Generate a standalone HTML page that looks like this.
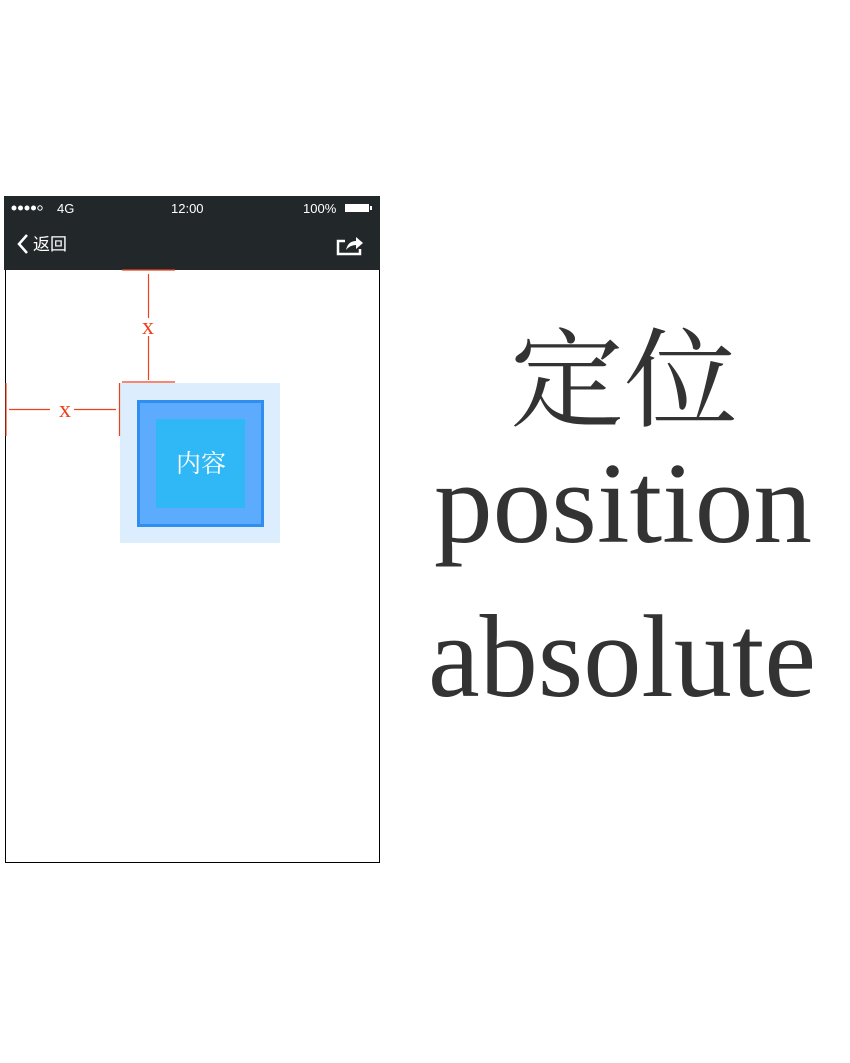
<!DOCTYPE html>
<html><head><meta charset="utf-8"><style>
html,body{margin:0;padding:0;background:#fff;width:850px;height:1063px;overflow:hidden}
</style></head><body>
<svg width="850" height="1063" xmlns="http://www.w3.org/2000/svg" style="position:absolute;left:0;top:0">
<rect x="0" y="0" width="850" height="1063" fill="#fff"/>
<rect x="5.5" y="196.5" width="374" height="666" fill="#fff" stroke="#000" stroke-width="1"/>
<rect x="4" y="196" width="376" height="74" fill="#22272a"/>
<g fill="#fff" font-family="Liberation Sans, sans-serif" font-size="13">
<circle cx="14" cy="208" r="2.5"/><circle cx="20.5" cy="208" r="2.5"/><circle cx="27" cy="208" r="2.5"/><circle cx="33.5" cy="208" r="2.5"/>
<circle cx="40" cy="208" r="2.2" fill="none" stroke="#fff" stroke-width="1"/>
<text x="57" y="213">4G</text>
<text x="171" y="213">12:00</text>
<text x="303" y="213">100%</text>
<rect x="345" y="204" width="24" height="8" fill="#fff"/><rect x="370" y="206" width="2" height="4"/>
<path d="M27 235 L19 244 L27 253" fill="none" stroke="#fff" stroke-width="2.5"/>
<text x="33" y="250" font-family="Noto Sans CJK SC, sans-serif" font-size="17">返回</text>
<path d="M345 241 h-7 v13 h22 v-5" fill="none" stroke="#fff" stroke-width="2.5"/>
<path d="M346 250 q2 -9 10 -9 v-4 l7 6 l-7 6 v-4 q-6 0 -10 5z" fill="#fff"/>
</g>
<rect x="120" y="383" width="160" height="160" fill="#dceefd"/>
<rect x="138.5" y="401.5" width="124" height="124" fill="#5cabfd" stroke="#2f8ef0" stroke-width="3"/>
<rect x="156" y="419" width="89" height="89" fill="#2fb8f5"/>
<text x="201" y="472" text-anchor="middle" fill="#fff" font-family="Noto Serif CJK SC, serif" font-size="25">内容</text>
<g stroke="#f0401a" stroke-width="1.2" fill="none">
<line x1="122" y1="270" x2="175" y2="270"/>
<line x1="148.5" y1="274" x2="148.5" y2="318"/>
<line x1="148.5" y1="336" x2="148.5" y2="380"/>
<line x1="122" y1="382" x2="175" y2="382"/>
<line x1="6" y1="383" x2="6" y2="436"/>
<line x1="119.5" y1="383" x2="119.5" y2="436"/>
<line x1="9" y1="409.5" x2="50" y2="409.5"/>
<line x1="74" y1="409.5" x2="116" y2="409.5"/>
</g>
<g fill="#f0401a" font-family="Liberation Serif, serif" font-size="24" text-anchor="middle">
<text x="148" y="334">x</text>
<text x="65" y="417">x</text>
</g>
<g fill="#333">
<text x="510" y="418" font-family="Noto Serif CJK SC, serif" font-size="108" textLength="228" lengthAdjust="spacingAndGlyphs">定位</text>
<text x="434" y="542" font-family="Liberation Serif, serif" font-size="116" textLength="378" lengthAdjust="spacingAndGlyphs">position</text>
<text x="428" y="696" font-family="Liberation Serif, serif" font-size="118" textLength="388" lengthAdjust="spacingAndGlyphs">absolute</text>
</g>
</svg>
</body></html>
